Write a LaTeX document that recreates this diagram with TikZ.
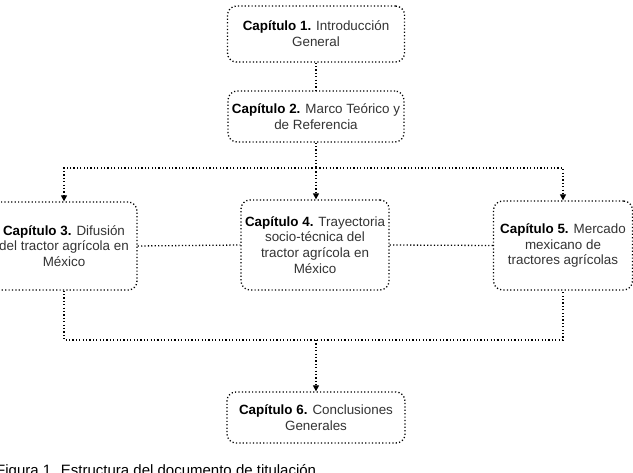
\documentclass[tikz,border=0pt]{standalone}
\usepackage{fontspec}
\setmainfont{Liberation Sans}
\usetikzlibrary{arrows.meta}
\definecolor{txt}{HTML}{333333}
\begin{document}
\begin{tikzpicture}[x=1pt,y=-1pt,
  chap/.style={draw=black, rounded corners=9pt, line width=1.3pt,
    dash pattern=on 1.2pt off 2.2pt, align=center, inner sep=0pt,
    font=\fontsize{13.4}{15.8}\selectfont, text=txt},
  link/.style={draw=black, line width=1.3pt, dash pattern=on 1.2pt off 2.2pt},
  arr/.style={link, -{Triangle[length=6pt,width=6pt]}}]
\useasboundingbox (0,0) rectangle (633,473);
\fill[white] (0,0) rectangle (633,473);
\node[chap, minimum width=177pt, minimum height=56pt] (c1) at (316,34)
  {\textcolor{black}{\textbf{Capítulo 1.}} Introducción\\General};
\node[chap, minimum width=176pt, minimum height=51pt] (c2) at (316,116.5)
  {\textcolor{black}{\textbf{Capítulo 2.}} Marco Teórico y\\de Referencia};
\node[chap, minimum width=146pt, minimum height=88pt] (c3) at (64,246)
  {\textcolor{black}{\textbf{Capítulo 3.}} Difusión\\del tractor agrícola en\\México};
\node[chap, minimum width=148pt, minimum height=90pt] (c4) at (315,245)
  {\textcolor{black}{\textbf{Capítulo 4.}} Trayectoria\\socio-técnica del\\tractor agrícola en\\México};
\node[chap, minimum width=139pt, minimum height=89pt] (c5) at (563,245.5)
  {\textcolor{black}{\textbf{Capítulo 5.}} Mercado\\mexicano de\\tractores agrícolas};
\node[chap, minimum width=178pt, minimum height=51pt] (c6) at (316,417.5)
  {\textcolor{black}{\textbf{Capítulo 6.}} Conclusiones\\Generales};
\node[anchor=base west, inner sep=0pt, font=\fontsize{15}{18}\selectfont, text=black] (cap) at (-4,476)
  {Figura 1. Estructura del documento de titulación};
\coordinate (t) at (316,168);
\coordinate (b) at (316,340);
\draw[link] (c1.south) -- (c2.south |- c1.south) -- (c2.north);
\draw[link] (c2.south) -- (t);
\draw[arr] (t) -- (c3.north |- t) -- (c3.north);
\draw[arr] (t) -- (t -| c5.north) -- (c5.north);
\draw[arr] (t) -- (t |- c4.north);
\draw[link] (c3.east) -- (c4.west);
\draw[link] (c4.east) -- (c5.west);
\draw[link] (c3.south) -- (c3.south |- b) -- (b -| c5.south) -- (c5.south);
\draw[arr] (b) -- (c6.north);
\end{tikzpicture}
\end{document}
